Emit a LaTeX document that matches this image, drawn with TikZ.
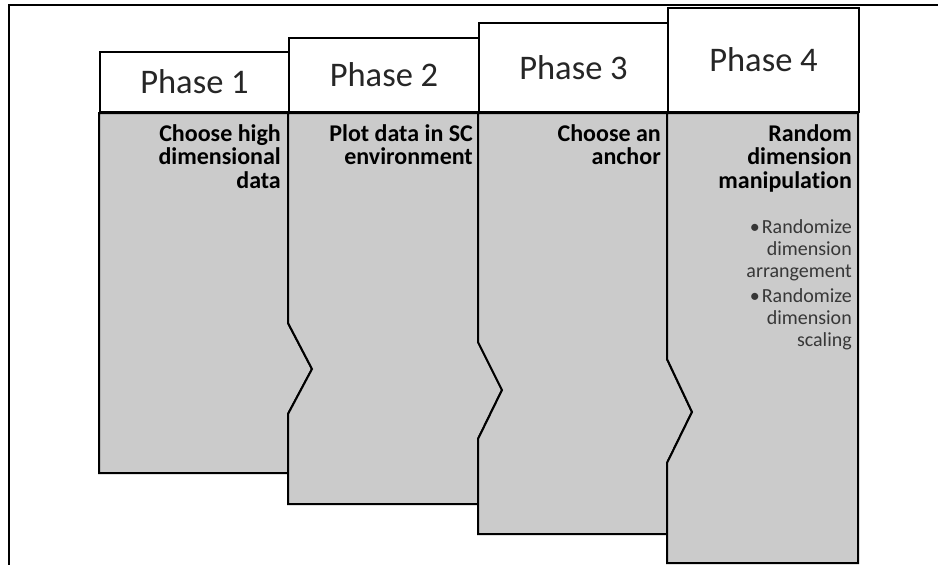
\documentclass[tikz,border=0pt]{standalone}
\usepackage{fontspec}
\setmainfont[Ligatures=NoCommon]{Carlito}
\usepackage{tikz}

\definecolor{bodygray}{RGB}{203,203,203}
\definecolor{inkgray}{RGB}{38,38,38}
\definecolor{subgray}{RGB}{55,55,55}
\tikzset{
  frame/.style={draw=black, line width=2pt},
  body/.style={draw=black, fill=bodygray, line width=2pt, line join=miter},
  phasehead/.style={draw=black, fill=white, line width=2pt, inner sep=0pt,
    text=inkgray, font=\fontsize{34.5}{40}\selectfont},
  task/.style={inner sep=0pt, align=right, text=black,
    font=\fontsize{24}{23.5}\selectfont\bfseries},
  subtask/.style={inner sep=0pt, align=right, text=subgray,
    font=\fontsize{20}{22}\selectfont}
}

\begin{document}
\begin{tikzpicture}[x=1pt,y=-1pt]
\useasboundingbox (0,0) rectangle (938,565);
% outer frame
\draw [frame] (9,566) -- (9,5) -- (939,5);
% bodies
\draw [body] (99,113) -- (288,113) -- (288,323) -- (312,369) -- (288,414) -- (288,473) -- (99,473) -- cycle;
\draw [body] (288,113) -- (478,113) -- (478,342) -- (502,390) -- (478,439) -- (478,504) -- (288,504) -- (288,414) -- (312,369) -- (288,323) -- cycle;
\draw [body] (478,113) -- (667,113) -- (667,359) -- (692,412) -- (667,463) -- (667,534) -- (478,534) -- (478,439) -- (502,390) -- (478,342) -- cycle;
\draw [body] (667,113) -- (858,113) -- (858,563) -- (667,563) -- (667,463) -- (692,412) -- (667,359) -- cycle;
% headers
\node [phasehead, anchor=south west, minimum width=189pt, minimum height=60pt] (head1) at (99,113) {Phase 1};
\node [phasehead, anchor=south west, minimum width=190pt, minimum height=74pt] (head2) at (288,113) {Phase 2};
\node [phasehead, anchor=south west, minimum width=189pt, minimum height=89pt] (head3) at (478,113) {Phase 3};
\node [phasehead, anchor=south west, minimum width=191pt, minimum height=104pt] (head4) at (667,113) {Phase 4};
% texts
\node [task, anchor=north east] (task1) at (281,124) {Choose high\\dimensional\\data};
\node [task, anchor=north east] (task2) at (473,124) {Plot data in SC\\environment};
\node [task, anchor=north east] (task3) at (661,124) {Choose an\\anchor};
\node [task, anchor=north east] (task4) at (852,124) {Random\\dimension\\manipulation};
\node [subtask, anchor=north east] (steps4) at (852,219) {•\hspace{2pt}Randomize\\dimension\\arrangement\\[3pt]•\hspace{2pt}Randomize\\dimension\\scaling};
\end{tikzpicture}
\end{document}
